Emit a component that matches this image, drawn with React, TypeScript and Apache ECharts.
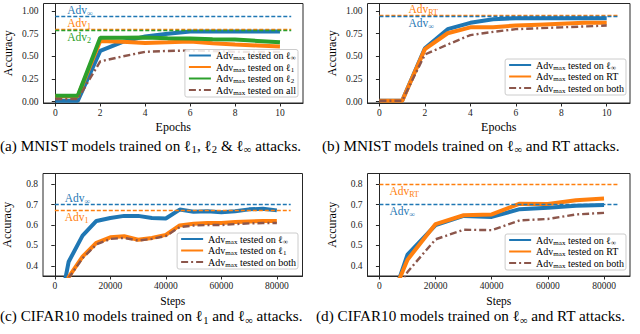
import React, { useEffect, useRef } from "react";
import * as echarts from "echarts";

const FONT = "'Liberation Serif', 'DejaVu Serif', serif";

// ---------- data ----------
const epochs = [0, 1, 2, 3, 4, 5, 6, 7, 8, 9, 10];
const aInf = [0.01, 0.01, 0.56, 0.66, 0.72, 0.75, 0.775, 0.775, 0.775, 0.775, 0.775];
const aL1 = [0.06, 0.06, 0.67, 0.66, 0.648, 0.655, 0.663, 0.645, 0.63, 0.62, 0.61];
const aL2 = [0.065, 0.065, 0.705, 0.705, 0.707, 0.70, 0.696, 0.69, 0.685, 0.67, 0.655];
const aAll = [0.03, 0.03, 0.445, 0.50, 0.55, 0.56, 0.565, 0.56, 0.55, 0.55, 0.55];
const aRef = { inf: 0.945, l1: 0.80, l2: 0.79 };

const bInf = [0.01, 0.01, 0.59, 0.80, 0.87, 0.91, 0.92, 0.92, 0.92, 0.92, 0.92];
const bRT = [0.01, 0.01, 0.58, 0.755, 0.82, 0.822, 0.84, 0.85, 0.86, 0.87, 0.872];
const bBoth = [0.01, 0.01, 0.52, 0.63, 0.735, 0.77, 0.80, 0.81, 0.82, 0.83, 0.84];
const bRef = { rt: 0.955, inf: 0.945 };

const cSteps = [0, 5000, 10000, 15000, 20000, 25000, 30000, 35000, 40000, 45000, 50000, 55000, 60000, 65000, 70000, 75000, 80000];
const cInf = [0.07, 0.42, 0.548, 0.62, 0.635, 0.645, 0.645, 0.635, 0.632, 0.676, 0.665, 0.668, 0.663, 0.668, 0.677, 0.68, 0.672];
const cL1 = [0.05, 0.345, 0.445, 0.513, 0.54, 0.545, 0.528, 0.537, 0.552, 0.598, 0.606, 0.61, 0.61, 0.615, 0.618, 0.62, 0.62];
const cBoth = [0.05, 0.34, 0.437, 0.505, 0.532, 0.537, 0.524, 0.532, 0.546, 0.59, 0.598, 0.60, 0.60, 0.605, 0.608, 0.61, 0.61];
const cRef = { inf: 0.703, l1: 0.672 };

const dSteps = [0, 10000, 20000, 30000, 40000, 50000, 60000, 70000, 80000];
const dInf = [0.05, 0.455, 0.60, 0.645, 0.64, 0.678, 0.685, 0.695, 0.698];
const dRT = [0.1, 0.43, 0.605, 0.648, 0.652, 0.705, 0.703, 0.722, 0.73];
const dBoth = [0.1, 0.37, 0.53, 0.577, 0.575, 0.623, 0.63, 0.652, 0.66];
const dRef = { rt: 0.80, inf: 0.703 };

const epochTicks = [0, 2, 4, 6, 8, 10];
const stepTicks = [0, 20000, 40000, 60000, 80000];
const accTicksTop = [0, 0.25, 0.5, 0.75, 1.0];
const accTicksBottom = [0.4, 0.5, 0.6, 0.7, 0.8];

const legendNames: Record<string, string> = {
  inf: "{t|Adv}{s|max}{t| tested on ℓ}{s|∞}",
  l1: "{t|Adv}{s|max}{t| tested on ℓ}{s|1}",
  l2: "{t|Adv}{s|max}{t| tested on ℓ}{s|2}",
  all: "{t|Adv}{s|max}{t| tested on all}",
  rt: "{t|Adv}{s|max}{t| tested on RT}",
  both: "{t|Adv}{s|max}{t| tested on both}",
};

const captions = [
  "{t|(a) MNIST models trained on ℓ}{s|1}{t|, ℓ}{s|2}{t| & ℓ}{s|∞}{t| attacks.}",
  "{t|(b) MNIST models trained on ℓ}{s|∞}{t| and RT attacks.}",
  "{t|(c) CIFAR10 models trained on ℓ}{s|1}{t| and ℓ}{s|∞}{t| attacks.}",
  "{t|(d) CIFAR10 models trained on ℓ}{s|∞}{t| and RT attacks.}",
];

const COL = { blue: "#1f77b4", orange: "#ff7f0e", green: "#2ca02c", brown: "#8c564b" };

// ---------- helpers ----------
const grids = [
  { left: 43.5, top: 3.5, width: 259.5, height: 99.5 },
  { left: 367.5, top: 3.5, width: 262.5, height: 99.5 },
  { left: 39.5, top: 173.5, width: 263, height: 102.5 },
  { left: 367.5, top: 173.5, width: 262.5, height: 102.5 },
];

const subRich = (color: string, size: number, L: number, k = 0.62) => ({
  t: { fontFamily: FONT, fontSize: size, color, lineHeight: L, height: L },
  s: {
    fontFamily: FONT, fontSize: size * 0.7, color, verticalAlign: "bottom",
    lineHeight: L, height: Math.max(0.5, L - k * size),
  },
});

function xAxis(idx: number, min: number, max: number, ticks: number[], name: string, gap: number, fs: number) {
  return {
    type: "value", gridIndex: idx, min, max, name, nameLocation: "middle", nameGap: gap,
    nameTextStyle: { fontFamily: FONT, fontSize: fs, color: "#000", lineHeight: 9 },
    axisLine: { show: true, onZero: false, lineStyle: { color: "#262626", width: 1 } },
    axisTick: { show: true, length: 3.5, customValues: ticks, lineStyle: { color: "#262626", width: 1 } },
    axisLabel: { customValues: ticks, fontFamily: FONT, fontSize: 9.5, color: "#222", margin: 5, formatter: (v: number) => String(v) },
    splitLine: { show: false },
  };
}

function yAxis(idx: number, min: number, max: number, ticks: number[], digits: number) {
  return {
    type: "value", gridIndex: idx, min, max, name: "Accuracy", nameLocation: "middle", nameRotate: 90, nameGap: 30.5,
    nameTextStyle: { fontFamily: FONT, fontSize: 12, color: "#000", lineHeight: 11 },
    axisLine: { show: true, lineStyle: { color: "#262626", width: 1 } },
    axisTick: { show: true, length: 3.5, customValues: ticks, lineStyle: { color: "#262626", width: 1 } },
    axisLabel: { customValues: ticks, fontFamily: FONT, fontSize: 9.5, color: "#222", margin: 5, formatter: (v: number) => v.toFixed(digits) },
    splitLine: { show: false },
  };
}

function curve(key: string, xs: number[], ys: number[], color: string, idx: number, dashdot = false) {
  return {
    type: "line", name: key, xAxisIndex: idx, yAxisIndex: idx,
    data: xs.map((x, i) => [x, ys[i]]),
    symbol: "none", clip: true, silent: true,
    lineStyle: { color, width: dashdot ? 2.4 : 4, type: dashdot ? [7, 3, 2, 3] : "solid", cap: "butt" },
    itemStyle: { color },
  };
}

function refLine(idx: number, x0: number, x1: number, v: number, color: string, sub: string, pos: string, dist: number[]) {
  return {
    type: "line", xAxisIndex: idx, yAxisIndex: idx, data: [], silent: true,
    markLine: {
      silent: true, symbol: "none", animation: false,
      data: [[{ coord: [x0, v] }, { coord: [x1, v] }]],
      lineStyle: { color, width: 1.3, type: [4, 2] },
      label: {
        show: true, position: pos, distance: dist,
        formatter: `{t|Adv}{s|${sub}}`, rich: subRich(color, 11.5, 11),
      },
    },
  };
}

function legend(names: string[], right: number, bottom: number) {
  return {
    show: true, orient: "vertical", right, bottom, data: names,
    itemWidth: 22, itemHeight: 8, itemGap: 0.5, padding: [1, 2, 1, 3],
    backgroundColor: "rgba(255,255,255,0.85)", borderColor: "#cccccc", borderWidth: 1, borderRadius: 2,
    selectedMode: false,
    lineStyle: { width: 2 },
    itemStyle: { color: "rgba(0,0,0,0)", borderWidth: 0, opacity: 0 },
    formatter: (n: string) => legendNames[n],
    textStyle: { fontFamily: FONT, fontSize: 10, color: "#000", lineHeight: 9.4, height: 9.4, rich: subRich("#000", 10, 9.4, 0.5) },
  };
}

export default function App() {
  const ref = useRef<HTMLDivElement>(null);
  useEffect(() => {
    const chart = echarts.init(ref.current!, null, { renderer: "svg" });
    const capPos = [[0, 143], [322, 143], [0, 313.5], [316, 313.5]];
    const capL = 11;
    chart.setOption({
      animation: false,
      backgroundColor: "#fff",
      grid: grids.map((g) => ({ ...g, show: true, borderColor: "#262626", borderWidth: 1, backgroundColor: "transparent" })),
      xAxis: [
        xAxis(0, -0.525, 11.025, epochTicks, "Epochs", 19.5, 12),
        xAxis(1, -0.525, 11.025, epochTicks, "Epochs", 19.5, 12),
        xAxis(2, -4250, 89250, stepTicks, "Steps", 20.5, 11.5),
        xAxis(3, -4250, 89250, stepTicks, "Steps", 20.5, 11.5),
      ],
      yAxis: [
        yAxis(0, -0.014, 1.083, accTicksTop, 2),
        yAxis(1, -0.014, 1.083, accTicksTop, 2),
        yAxis(2, 0.35, 0.853, accTicksBottom, 1),
        yAxis(3, 0.35, 0.853, accTicksBottom, 1),
      ],
      legend: [
        legend(["inf", "l1", "l2", "all"], 342, 237),
        legend(["inf", "rt", "both"], 14, 239),
        legend(["inf", "l1", "both"], 342, 65),
        legend(["inf", "rt", "both"], 14, 64),
      ],
      series: [
        refLine(0, 0, 10.5, aRef.inf, COL.blue, "∞", "insideStartTop", [12, 1]),
        refLine(0, 0, 10.5, aRef.l1, COL.orange, "1", "insideStartTop", [12, 1]),
        refLine(0, 0, 10.5, aRef.l2, COL.green, "2", "insideStartBottom", [12, 1]),
        curve("inf", epochs, aInf, COL.blue, 0),
        curve("l1", epochs, aL1, COL.orange, 0),
        curve("l2", epochs, aL2, COL.green, 0),
        curve("all", epochs, aAll, COL.brown, 0, true),

        refLine(1, 0, 10.5, bRef.rt, COL.orange, "RT", "insideStartTop", [29, 1]),
        refLine(1, 0, 10.5, bRef.inf, COL.blue, "∞", "insideStartBottom", [29, 1]),
        curve("inf", epochs, bInf, COL.blue, 1),
        curve("rt", epochs, bRT, COL.orange, 1),
        curve("both", epochs, bBoth, COL.brown, 1, true),

        refLine(2, 0, 85000, cRef.inf, COL.blue, "∞", "insideStartTop", [10, 1]),
        refLine(2, 0, 85000, cRef.l1, COL.orange, "1", "insideStartBottom", [10, 1]),
        curve("inf", cSteps, cInf, COL.blue, 2),
        curve("l1", cSteps, cL1, COL.orange, 2),
        curve("both", cSteps, cBoth, COL.brown, 2, true),

        refLine(3, 0, 85000, dRef.rt, COL.orange, "RT", "insideStartBottom", [10, 1]),
        refLine(3, 0, 85000, dRef.inf, COL.blue, "∞", "insideStartBottom", [10, 1]),
        curve("inf", dSteps, dInf, COL.blue, 3),
        curve("rt", dSteps, dRT, COL.orange, 3),
        curve("both", dSteps, dBoth, COL.brown, 3, true),
      ],
      graphic: captions.map((c, i) => ({
        type: "text", left: capPos[i][0], top: capPos[i][1] - capL / 2, silent: true,
        style: { text: c, rich: subRich("#000", 15.2, capL), fill: "#000" },
      })),
    });
    return () => chart.dispose();
  }, []);
  return <div ref={ref} style={{ position: "absolute", left: 0, top: 0, width: 640, height: 334 }} />;
}
